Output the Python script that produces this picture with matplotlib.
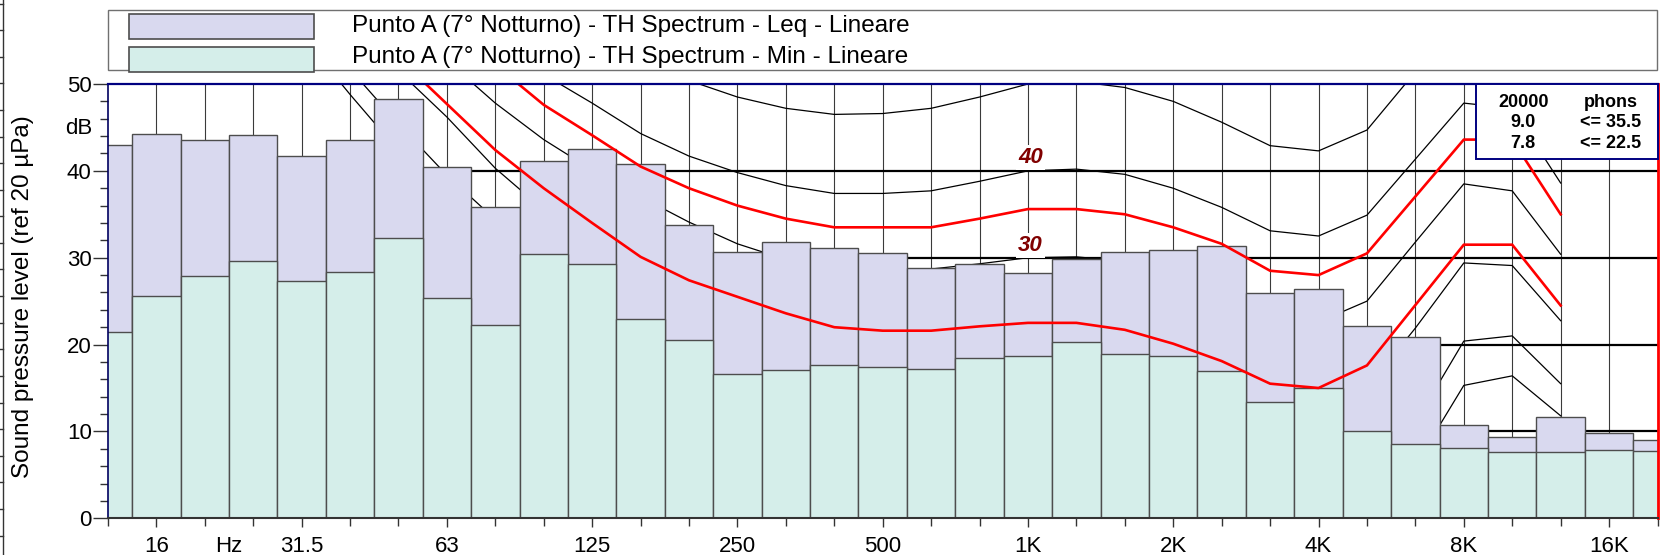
import matplotlib
matplotlib.use("Agg")
import matplotlib.pyplot as plt
from matplotlib.patches import Rectangle
from matplotlib.lines import Line2D
import numpy as np

plt.rcParams['font.family'] = ['Liberation Sans', 'DejaVu Sans']

# ---------------- data ----------------
bands = ['12.5', '16', '20', '25', '31.5', '40', '50', '63', '80', '100', '125', '160',
         '200', '250', '315', '400', '500', '630', '800', '1000', '1250', '1600', '2000',
         '2500', '3150', '4000', '5000', '6300', '8000', '10000', '12500', '16000', '20000']
leq = [43.0, 44.2, 43.6, 44.1, 41.7, 43.6, 48.3, 40.4, 35.8, 41.1, 42.5, 40.8, 33.8,
       30.7, 31.8, 31.1, 30.5, 28.8, 29.3, 28.2, 29.8, 30.7, 30.9, 31.3, 25.9, 26.4,
       22.1, 20.9, 10.7, 9.4, 11.7, 9.8, 9.0]
lmin = [21.5, 25.6, 27.9, 29.6, 27.3, 28.4, 32.3, 25.4, 22.3, 30.4, 29.3, 23.0, 20.5,
        16.6, 17.1, 17.6, 17.4, 17.2, 18.5, 18.7, 20.3, 18.9, 18.65, 17.0, 13.4, 15.0,
        10.0, 8.6, 8.1, 7.6, 7.6, 7.9, 7.8]

# equal loudness contours (12.5 Hz .. 12.5 kHz)
phon0 = [80, 73, 66, 60, 55.6, 48.8, 42.3, 36.5, 31.0, 26.5, 22.5, 19.0, 16.0, 13.5, 11.5,
         9.5, 8.0, 7.0, 6.0, 5.0, 4.0, 2.5, 1.5, 0.0, -1.0, -1.0, 2.0, 6.1, 15.3, 16.4, 11.8]
phon10 = [88, 80, 72, 64, 57.5, 51.7, 45.4, 39.5, 34.4, 30.5, 27.0, 23.5, 20.5, 18.0, 16.0,
          14.5, 13.0, 12.0, 11.0, 10.0, 9.8, 8.5, 7.0, 5.0, 3.5, 3.0, 6.0, 11.0, 20.4, 21.0, 15.5]
phon20 = [90, 83, 76, 69, 63, 57, 51.5, 46.2, 40.3, 35.5, 31.5, 28.0, 25.5, 23.5, 22.0,
          21.0, 20.3, 20.0, 20.0, 20.0, 19.7, 18.5, 17.0, 15.0, 13.0, 12.5, 15.0, 21.9, 29.4, 29.1, 22.75]
phon30 = [98, 91, 84, 77, 70.5, 64.5, 58.5, 52.7, 47.8, 43.6, 40.1, 37.0, 34.1, 31.6, 29.8,
          28.9, 28.6, 28.7, 29.3, 30.0, 30.1, 29.6, 28.0, 25.9, 23.1, 22.6, 25.0, 31.8, 38.5, 37.7, 30.4]
phon40 = [102, 95, 88, 81, 75, 69.5, 64, 59, 55, 51.1, 47.8, 44.3, 41.7, 39.8, 38.3,
          37.4, 37.4, 37.7, 38.8, 40.0, 40.2, 39.6, 38.0, 35.8, 33.1, 32.5, 34.9, 41.35, 47.8, 47.2, 38.6]
phon50 = [110, 104, 97, 91, 85, 79, 73.5, 69, 65, 61, 57, 53.5, 50.4, 48.5, 47.2,
          46.5, 46.6, 47.2, 48.5, 50.0, 50.3, 49.6, 48.0, 45.6, 42.9, 42.3, 44.7, 51.4, 57.5, 57.0, 48.5]
loud_leq = [97, 90, 83, 77, 71, 66, 61, 56.5, 52.2, 47.6, 44.1, 40.5, 38.0, 36.0, 34.5,
            33.5, 33.5, 33.5, 34.5, 35.6, 35.6, 35.0, 33.5, 31.6, 28.5, 28.0, 30.5, 37.05, 43.6, 43.6, 35.0]
loud_min = [90, 83, 76, 70, 64, 58.5, 53.0, 47.7, 42.4, 38.0, 34.0, 30.1, 27.4, 25.5, 23.6,
            22.0, 21.6, 21.6, 22.1, 22.5, 22.5, 21.7, 20.1, 18.1, 15.5, 15.0, 17.6, 24.55, 31.5, 31.5, 24.5]

xtick_idx = [1, 4, 7, 10, 13, 16, 19, 22, 25, 28, 31]
xtick_labels = ['16', '31.5', '63', '125', '250', '500', '1K', '2K', '4K', '8K', '16K']
ytick_vals = [0, 10, 20, 30, 40, 50]
legend_labels = ['Punto A (7° Notturno) - TH Spectrum - Leq - Lineare',
                 'Punto A (7° Notturno) - TH Spectrum - Min - Lineare']
box_rows = [('20000', 'phons'), ('9.0', '<= 35.5'), ('7.8', '<= 22.5')]

# ---------------- figure ----------------
W, H = 1662, 555
fig = plt.figure(figsize=(W / 100, H / 100), dpi=100)


def fx(px):
    return px / W


def fy(py):
    return 1 - py / H


ax_l, ax_r, ax_t, ax_b = 107.9, 1657.5, 84.0, 518.3
ax = fig.add_axes([fx(ax_l), fy(ax_b), fx(ax_r - ax_l), (ax_b - ax_t) / H])
ax.set_xlim(0, 32)
ax.set_ylim(0, 50)

idx = np.arange(len(bands))
cidx = np.arange(len(phon0))

C_LEQ = '#d9d9ef'
C_MIN = '#d5eeea'
C_EDGE = '#4d4d4d'

# grid behind bars
for i in idx[1:-1]:
    ax.axvline(i, color='#3a3a3a', lw=0.8, zorder=1)
for v in [10, 20, 30, 40]:
    ax.axhline(v, color='black', lw=1.6, zorder=1.5)

# black contours (behind bars)
for c in [phon0, phon10, phon20, phon30, phon40, phon50]:
    ax.plot(cidx, c, color='black', lw=0.9, zorder=2)

# bars
ax.bar(idx, leq, width=1.0, color=C_LEQ, edgecolor=C_EDGE, linewidth=1.0, zorder=3)
ax.bar(idx, lmin, width=1.0, color=C_MIN, edgecolor=C_EDGE, linewidth=1.0, zorder=4)

# red loudness contours (in front)
ax.plot(cidx, loud_leq, color='#ff0000', lw=1.9, zorder=5)
ax.plot(cidx, loud_min, color='#ff0000', lw=1.9, zorder=5)

# contour labels
for val, ytxt in [('40', 40.94), ('30', 30.8)]:
    ax.text(19.05, ytxt, val, color='#800000', fontsize=16, fontweight='bold',
            fontstyle='italic', ha='center', va='baseline', zorder=6,
            bbox=dict(facecolor='white', edgecolor='none', pad=1.5))

# spines
ax.spines['top'].set_color('#000080')
ax.spines['top'].set_linewidth(1.6)
ax.spines['right'].set_color('#ff0000')
ax.spines['right'].set_linewidth(2.0)
ax.spines['left'].set_color('#000060')
ax.spines['left'].set_linewidth(1.2)
ax.spines['bottom'].set_color('#333333')
ax.spines['bottom'].set_linewidth(1.5)
for s in ax.spines.values():
    s.set_zorder(7)

# ticks
ax.set_xticks(xtick_idx)
ax.set_xticklabels(xtick_labels, fontsize=16)
ax.set_xticks(idx, minor=True)
ax.tick_params(axis='x', which='major', direction='out', length=6.5, width=1.0,
               color='#333333', pad=6.6)
ax.tick_params(axis='x', which='minor', direction='out', length=5.5, width=1.0,
               color='#333333')
ax.set_yticks(ytick_vals)
ax.set_yticklabels([str(v) for v in ytick_vals], fontsize=16)
ax.set_yticks(np.arange(0, 51, 2), minor=True)
ax.tick_params(axis='y', which='major', direction='out', length=10.5, width=1.0,
               color='#333333', pad=1.2)
ax.tick_params(axis='y', which='minor', direction='out', length=5.5, width=1.0,
               color='#333333')

ax.annotate('Hz', xy=(2.5, 0), xycoords=('data', 'axes fraction'),
            xytext=(0, -13.1), textcoords='offset points', ha='center', va='top',
            fontsize=16)
fig.text(fx(92.5), fy(128.3), 'dB', ha='right', va='center', fontsize=16)

# y axis label
fig.text(fx(23), fy(297), 'Sound pressure level (ref 20 µPa)', rotation=90,
         ha='center', va='center', fontsize=17.5)

# far-left partial axis
fig.add_artist(Line2D([fx(3), fx(3)], [0, 1], color='#333333', lw=1.0,
                      transform=fig.transFigure))
for k in range(21):
    yy = 3.5 + 26.6 * k
    fig.add_artist(Line2D([fx(0), fx(3)], [fy(yy), fy(yy)], color='#333333', lw=1.0,
                          transform=fig.transFigure))

# top legend
fig.add_artist(Rectangle((fx(107.9), fy(70)), fx(1657 - 107.9), 60 / H,
                         transform=fig.transFigure, facecolor='white',
                         edgecolor='#707070', lw=1.0))
sw = [(14, 39, C_LEQ), (47.3, 71.7, C_MIN)]
for (y0, y1, col), lab, base in zip(sw, legend_labels, [31.7, 63.3]):
    fig.add_artist(Rectangle((fx(128.6), fy(y1)), fx(314.3 - 128.6), (y1 - y0) / H,
                             transform=fig.transFigure, facecolor=col,
                             edgecolor=C_EDGE, lw=1.2))
    fig.text(fx(352.5), fy(base), lab, ha='left', va='baseline', fontsize=17.5)

# phons box (top right of plot)
fig.add_artist(Rectangle((fx(1475.7), fy(159)), fx(1658 - 1475.7), 75 / H,
                         transform=fig.transFigure, facecolor='white',
                         edgecolor='#000080', lw=1.4, zorder=10))
for (a, b), base in zip(box_rows, [106.7, 127.3, 148.3]):
    fig.text(fx(1523.3), fy(base), a, ha='center', va='baseline', fontsize=13,
             fontweight='bold', zorder=11)
    fig.text(fx(1611), fy(base), b, ha='center', va='baseline', fontsize=13,
             fontweight='bold', zorder=11)

fig.savefig('out.png', dpi=100)
